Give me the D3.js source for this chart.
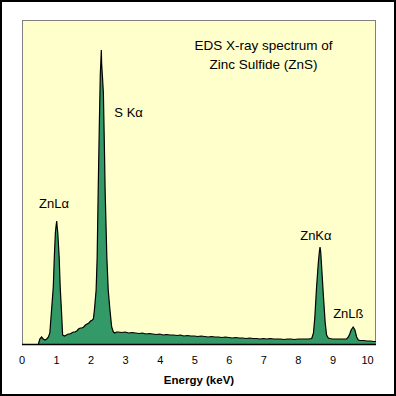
<!DOCTYPE html>
<html>
<head>
<meta charset="utf-8">
<script src="https://cdn.jsdelivr.net/npm/d3@7"></script>
<style>
  html, body { margin: 0; padding: 0; background: #fff; }
  svg { display: block; }
  text { font-family: "Liberation Sans", Arial, sans-serif; fill: #000; }
</style>
</head>
<body>
<svg id="plot"></svg>
<script>
// spectrum: energy (keV) and counts
const energy = [
  0.49, 0.53, 0.58, 0.63, 0.68, 0.73, 0.78, 0.82, 0.87, 0.92, 0.95, 0.98, 1.00, 1.02, 1.03,
  1.05, 1.09, 1.12, 1.16, 1.19, 1.24, 1.30, 1.35, 1.40, 1.45, 1.50, 1.55, 1.60, 1.65, 1.70,
  1.75, 1.80, 1.85, 1.90, 1.95, 2.00, 2.05, 2.08, 2.11, 2.16, 2.19, 2.22, 2.25, 2.28, 2.30,
  2.31, 2.32, 2.34, 2.37, 2.40, 2.42, 2.47, 2.51, 2.56, 2.61, 2.66, 2.70, 2.75, 2.80, 2.90,
  3.00, 3.10, 3.20, 3.30, 3.40, 3.50, 3.60, 3.70, 3.80, 3.90, 4.00, 4.10, 4.20, 4.30, 4.40,
  4.50, 4.60, 4.70, 4.80, 4.90, 5.00, 5.10, 5.20, 5.30, 5.40, 5.50, 5.60, 5.70, 5.80, 5.90,
  6.00, 6.10, 6.20, 6.30, 6.40, 6.50, 6.60, 6.70, 6.80, 6.90, 7.00, 7.10, 7.20, 7.30, 7.40,
  7.50, 7.60, 7.70, 7.80, 7.90, 8.00, 8.10, 8.20, 8.30, 8.40, 8.45, 8.49, 8.54, 8.59, 8.62,
  8.64, 8.66, 8.68, 8.74, 8.79, 8.83, 8.88, 8.93, 9.00, 9.10, 9.20, 9.30, 9.41, 9.46, 9.50,
  9.54, 9.60, 9.65, 9.70, 9.75, 9.80, 9.90, 10.00, 10.10, 10.20, 10.26
];
const counts = [
  0, 50, 70, 50, 40, 50, 70, 110, 340, 570, 870, 1110, 1180, 1230, 1180,
  1110, 870, 570, 310, 90, 80, 90, 100, 100, 110, 120, 120, 130, 150, 160,
  160, 170, 190, 200, 210, 230, 240, 250, 340, 540, 870, 1540, 2140, 2690, 2850,
  2940, 2800, 2690, 2510, 1960, 1540, 870, 540, 340, 170, 120, 110, 120, 120, 115,
  120, 110, 115, 110, 105, 110, 100, 105, 100, 95, 100, 90, 95, 90, 90,
  85, 90, 80, 85, 80, 80, 75, 80, 75, 70, 75, 70, 70, 65, 70,
  65, 60, 65, 60, 60, 55, 60, 55, 55, 50, 55, 50, 55, 50, 50,
  50, 45, 50, 50, 45, 50, 50, 50, 50, 55, 110, 270, 570, 810, 920,
  970, 920, 810, 470, 210, 90, 60, 55, 50, 50, 50, 50, 50, 70, 100,
  140, 170, 140, 70, 40, 35, 35, 30, 30, 25, 25
];

const tickValues = [0, 1, 2, 3, 4, 5, 6, 7, 8, 9, 10];
const titleLines = ["EDS X-ray spectrum of", "Zinc Sulfide (ZnS)"];
const peakLabels = ["ZnL\u03b1", "S K\u03b1", "ZnK\u03b1", "ZnL\u00df"];
const peakEnergy = [0.94, 3.10, 8.52, 9.46];
const peakLabelCounts = [1365, 2270, 1040, 265];

const W = 396, H = 396;
const plot = { left: 22, top: 20, right: 376, bottom: 344 };

const svg = d3.select("#plot").attr("width", W).attr("height", H);

// outer frame
svg.append("rect")
  .attr("x", 1).attr("y", 1)
  .attr("width", W - 2).attr("height", H - 2)
  .attr("fill", "#fff")
  .attr("stroke", "#000")
  .attr("stroke-width", 2);

const x = d3.scaleLinear().domain([0, 10.26]).range([21.5, plot.right]);
const y = d3.scaleLinear().domain([0, 3240]).range([plot.bottom, plot.top]);

// plot area
svg.append("rect")
  .attr("x", plot.left + 0.5).attr("y", plot.top + 0.5)
  .attr("width", plot.right - plot.left - 1)
  .attr("height", plot.bottom - plot.top)
  .attr("fill", "#ffffcc")
  .attr("stroke", "#808080")
  .attr("stroke-width", 1);

const data = energy.map((e, i) => ({ e: e, c: counts[i] }));

const area = d3.area()
  .x((d) => x(d.e))
  .y0(y(0))
  .y1((d) => y(d.c));

const line = d3.line()
  .x((d) => x(d.e))
  .y((d) => y(d.c));

svg.append("path")
  .datum(data)
  .attr("d", area)
  .attr("fill", "#339966");

svg.append("path")
  .datum(data)
  .attr("d", line)
  .attr("fill", "none")
  .attr("stroke", "#000")
  .attr("stroke-width", 1.2);

// x axis, no tick marks
const xAxis = svg.append("g")
  .attr("transform", `translate(0,${plot.bottom})`)
  .call(d3.axisBottom(x).tickValues(tickValues).tickSize(0).tickPadding(12).tickFormat(d3.format("d")));
xAxis.select(".domain").remove();
xAxis.selectAll("text")
  .style("font-family", "'Liberation Sans', Arial, sans-serif")
  .style("font-size", "11px")
  .attr("fill", "#000");

svg.append("line")
  .attr("x1", plot.left).attr("x2", plot.right)
  .attr("y1", plot.bottom + 0.5).attr("y2", plot.bottom + 0.5)
  .attr("stroke", "#000")
  .attr("stroke-width", 1.5);

svg.append("text")
  .attr("x", (plot.left + plot.right) / 2)
  .attr("y", 384)
  .attr("text-anchor", "middle")
  .style("font-size", "11.5px")
  .style("font-weight", "bold")
  .text("Energy (keV)");

// title
svg.selectAll(".title")
  .data(titleLines)
  .enter()
  .append("text")
  .attr("class", "title")
  .attr("x", 263.5)
  .attr("y", (d, i) => 49.5 + i * 19)
  .attr("text-anchor", "middle")
  .style("font-size", "13.5px")
  .text((d) => d);

// peak labels
svg.selectAll(".peak")
  .data(peakLabels)
  .enter()
  .append("text")
  .attr("class", "peak")
  .attr("x", (d, i) => x(peakEnergy[i]))
  .attr("y", (d, i) => y(peakLabelCounts[i]))
  .attr("text-anchor", "middle")
  .style("font-size", "13px")
  .text((d) => d);
</script>
</body>
</html>
